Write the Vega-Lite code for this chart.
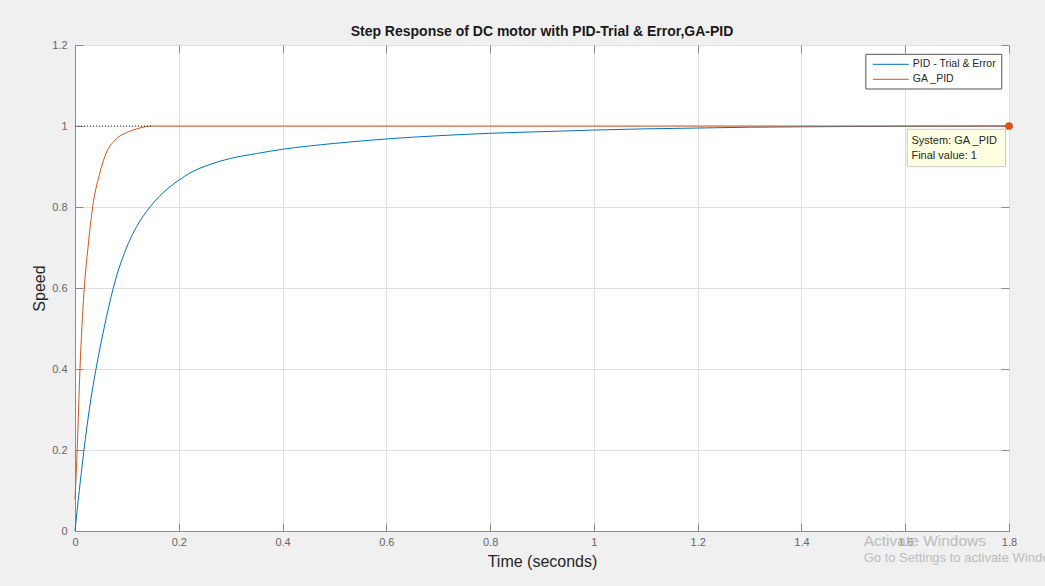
{
  "$schema": "https://vega.github.io/schema/vega-lite/v6.json",
  "width": 934,
  "height": 486,
  "autosize": "none",
  "padding": {"left": 75, "top": 45, "right": 36, "bottom": 55},
  "background": "#f0f0f0",
  "view": {"fill": "white", "stroke": "#8c8c8c", "strokeWidth": 1},
  "config": {
    "font": "Liberation Sans",
    "axis": {"labelFont": "Liberation Sans", "titleFont": "Liberation Sans"}
  },
  "title": {
    "text": "Step Response of DC motor with PID-Trial & Error,GA-PID",
    "fontSize": 14,
    "fontWeight": "bold",
    "color": "#1a1a1a",
    "anchor": "middle",
    "offset": 0
  },
  "datasets": {
    "response": [
      {"system": "PID - Trial & Error", "t": 0, "speed": 0},
      {"system": "PID - Trial & Error", "t": 0.0083, "speed": 0.1},
      {"system": "PID - Trial & Error", "t": 0.0173, "speed": 0.2},
      {"system": "PID - Trial & Error", "t": 0.0276, "speed": 0.3},
      {"system": "PID - Trial & Error", "t": 0.0405, "speed": 0.4},
      {"system": "PID - Trial & Error", "t": 0.0559, "speed": 0.5},
      {"system": "PID - Trial & Error", "t": 0.0738, "speed": 0.6},
      {"system": "PID - Trial & Error", "t": 0.1027, "speed": 0.71},
      {"system": "PID - Trial & Error", "t": 0.119, "speed": 0.752},
      {"system": "PID - Trial & Error", "t": 0.1445, "speed": 0.8},
      {"system": "PID - Trial & Error", "t": 0.183, "speed": 0.85},
      {"system": "PID - Trial & Error", "t": 0.201, "speed": 0.867},
      {"system": "PID - Trial & Error", "t": 0.2216, "speed": 0.884},
      {"system": "PID - Trial & Error", "t": 0.26, "speed": 0.905},
      {"system": "PID - Trial & Error", "t": 0.3, "speed": 0.92},
      {"system": "PID - Trial & Error", "t": 0.35, "speed": 0.932},
      {"system": "PID - Trial & Error", "t": 0.4, "speed": 0.9425},
      {"system": "PID - Trial & Error", "t": 0.5, "speed": 0.957},
      {"system": "PID - Trial & Error", "t": 0.6, "speed": 0.968},
      {"system": "PID - Trial & Error", "t": 0.7, "speed": 0.976},
      {"system": "PID - Trial & Error", "t": 0.8, "speed": 0.982},
      {"system": "PID - Trial & Error", "t": 0.9, "speed": 0.986},
      {"system": "PID - Trial & Error", "t": 1.0, "speed": 0.99},
      {"system": "PID - Trial & Error", "t": 1.1, "speed": 0.993},
      {"system": "PID - Trial & Error", "t": 1.2, "speed": 0.995},
      {"system": "PID - Trial & Error", "t": 1.3, "speed": 0.997},
      {"system": "PID - Trial & Error", "t": 1.4, "speed": 0.998},
      {"system": "PID - Trial & Error", "t": 1.5, "speed": 0.9988},
      {"system": "PID - Trial & Error", "t": 1.6, "speed": 0.9994},
      {"system": "PID - Trial & Error", "t": 1.8, "speed": 1.0},
      {"system": "GA _PID", "t": 0, "speed": 0.077},
      {"system": "GA _PID", "t": 0.0045, "speed": 0.21},
      {"system": "GA _PID", "t": 0.0096, "speed": 0.4},
      {"system": "GA _PID", "t": 0.0173, "speed": 0.59},
      {"system": "GA _PID", "t": 0.025, "speed": 0.7},
      {"system": "GA _PID", "t": 0.034, "speed": 0.8},
      {"system": "GA _PID", "t": 0.047, "speed": 0.88},
      {"system": "GA _PID", "t": 0.0597, "speed": 0.932},
      {"system": "GA _PID", "t": 0.077, "speed": 0.965},
      {"system": "GA _PID", "t": 0.0995, "speed": 0.984},
      {"system": "GA _PID", "t": 0.119, "speed": 0.993},
      {"system": "GA _PID", "t": 0.135, "speed": 0.998},
      {"system": "GA _PID", "t": 0.148, "speed": 1.0},
      {"system": "GA _PID", "t": 0.4, "speed": 1.0},
      {"system": "GA _PID", "t": 0.8, "speed": 1.0},
      {"system": "GA _PID", "t": 1.2, "speed": 1.0},
      {"system": "GA _PID", "t": 1.8, "speed": 1.0}
    ],
    "settle": [
      {"t": 0, "speed": 1},
      {"t": 0.148, "speed": 1}
    ],
    "legendbox": [
      {"x0": 1.5241, "x1": 1.7861, "y0": 1.0914, "y1": 1.177}
    ],
    "legendkeys": [
      {"system": "PID - Trial & Error", "x0": 1.5376, "x1": 1.6069, "lx": 1.6146, "y": 1.1523},
      {"system": "GA _PID", "x0": 1.5376, "x1": 1.6069, "lx": 1.6146, "y": 1.1153}
    ],
    "tipbox": [
      {"x0": 1.6037, "x1": 1.7933, "y0": 0.8995, "y1": 0.9919}
    ],
    "tiptext": [
      {"t": 1.612, "speed": 0.9637, "label": "System: GA _PID"},
      {"t": 1.612, "speed": 0.926, "label": "Final value: 1"}
    ],
    "marker": [
      {"t": 1.8, "speed": 1}
    ]
  },
  "layer": [
    {
      "data": {"name": "response"},
      "mark": {"type": "line", "strokeWidth": 1, "interpolate": "monotone"},
      "encoding": {
        "x": {
          "field": "t", "type": "quantitative",
          "scale": {"domain": [0, 1.8], "nice": false, "zero": false},
          "axis": {
            "orient": "bottom",
            "title": "Time (seconds)",
            "values": [0, 0.2, 0.4, 0.6, 0.8, 1, 1.2, 1.4, 1.6, 1.8],
            "format": "~g",
            "grid": true, "gridColor": "#dfdfdf", "gridWidth": 1,
            "domainColor": "#8c8c8c",
            "tickColor": "#8c8c8c", "tickSize": -8,
            "labelFlush": false, "labelOverlap": false,
            "labelFontSize": 11, "labelColor": "#666666", "labelPadding": 13,
            "titleFontSize": 16, "titleFontWeight": "normal", "titleColor": "#262626", "titlePadding": 6
          }
        },
        "y": {
          "field": "speed", "type": "quantitative",
          "scale": {"domain": [0, 1.2], "nice": false, "zero": false},
          "axis": {
            "orient": "left",
            "title": "Speed",
            "values": [0, 0.2, 0.4, 0.6, 0.8, 1, 1.2],
            "format": "~g",
            "grid": true, "gridColor": "#dfdfdf", "gridWidth": 1,
            "domainColor": "#8c8c8c",
            "tickColor": "#8c8c8c", "tickSize": -8,
            "labelFlush": false, "labelOverlap": false,
            "labelFontSize": 11, "labelColor": "#666666", "labelPadding": 16,
            "titleFontSize": 16, "titleFontWeight": "normal", "titleColor": "#262626", "titlePadding": 4
          }
        },
        "color": {
          "field": "system", "type": "nominal",
          "scale": {"domain": ["PID - Trial & Error", "GA _PID"], "range": ["#0072BD", "#D95319"]},
          "legend": null
        }
      }
    },
    {
      "data": {"name": "settle"},
      "mark": {"type": "line", "strokeWidth": 1, "strokeDash": [1, 2], "color": "#262626"},
      "encoding": {
        "x": {"field": "t", "type": "quantitative", "axis": null},
        "y": {"field": "speed", "type": "quantitative", "axis": null}
      }
    },
    {
      "data": {"name": "legendbox"},
      "mark": {"type": "rect", "fill": "white", "stroke": "#555555", "strokeWidth": 1},
      "encoding": {
        "x": {"field": "x0", "type": "quantitative", "axis": null},
        "x2": {"field": "x1"},
        "y": {"field": "y0", "type": "quantitative", "axis": null},
        "y2": {"field": "y1"}
      }
    },
    {
      "data": {"name": "legendkeys"},
      "mark": {"type": "rule", "strokeWidth": 1},
      "encoding": {
        "x": {"field": "x0", "type": "quantitative", "axis": null},
        "x2": {"field": "x1"},
        "y": {"field": "y", "type": "quantitative", "axis": null},
        "color": {"field": "system", "type": "nominal", "legend": null}
      }
    },
    {
      "data": {"name": "legendkeys"},
      "mark": {"type": "text", "align": "left", "baseline": "middle", "fontSize": 10.5, "color": "#262626", "font": "Liberation Sans"},
      "encoding": {
        "x": {"field": "lx", "type": "quantitative", "axis": null},
        "y": {"field": "y", "type": "quantitative", "axis": null},
        "text": {"field": "system"}
      }
    },
    {
      "data": {"name": "tipbox"},
      "mark": {"type": "rect", "fill": "#ffffe1", "stroke": "#c8c8c8", "strokeWidth": 1},
      "encoding": {
        "x": {"field": "x0", "type": "quantitative", "axis": null},
        "x2": {"field": "x1"},
        "y": {"field": "y0", "type": "quantitative", "axis": null},
        "y2": {"field": "y1"}
      }
    },
    {
      "data": {"name": "tiptext"},
      "mark": {"type": "text", "align": "left", "baseline": "middle", "fontSize": 11, "color": "#262626", "font": "Liberation Sans"},
      "encoding": {
        "x": {"field": "t", "type": "quantitative", "axis": null},
        "y": {"field": "speed", "type": "quantitative", "axis": null},
        "text": {"field": "label"}
      }
    },
    {
      "data": {"name": "marker"},
      "mark": {"type": "point", "filled": true, "size": 60, "color": "#D95319", "opacity": 1},
      "encoding": {
        "x": {
          "field": "t", "type": "quantitative",
          "axis": {"orient": "top", "title": null, "labels": false, "grid": false, "domain": false,
                   "values": [0, 0.2, 0.4, 0.6, 0.8, 1, 1.2, 1.4, 1.6, 1.8],
                   "tickColor": "#8c8c8c", "tickSize": -8}
        },
        "y": {
          "field": "speed", "type": "quantitative",
          "axis": {"orient": "right", "title": null, "labels": false, "grid": false, "domain": false,
                   "values": [0, 0.2, 0.4, 0.6, 0.8, 1, 1.2],
                   "tickColor": "#8c8c8c", "tickSize": -8}
        }
      }
    },
    {
      "data": {"values": [{"t": 1.52, "speed": -0.0247, "label": "Activate Windows"}]},
      "mark": {"type": "text", "align": "left", "baseline": "middle", "fontSize": 15.5, "color": "#bcbcbc", "font": "Liberation Sans"},
      "encoding": {
        "x": {"field": "t", "type": "quantitative", "axis": null},
        "y": {"field": "speed", "type": "quantitative", "axis": null},
        "text": {"field": "label"}
      }
    },
    {
      "data": {"values": [{"t": 1.52, "speed": -0.0667, "label": "Go to Settings to activate Windows."}]},
      "mark": {"type": "text", "align": "left", "baseline": "middle", "fontSize": 13, "color": "#bcbcbc", "font": "Liberation Sans"},
      "encoding": {
        "x": {"field": "t", "type": "quantitative", "axis": null},
        "y": {"field": "speed", "type": "quantitative", "axis": null},
        "text": {"field": "label"}
      }
    }
  ],
  "resolve": {"axis": {"x": "independent", "y": "independent"}}
}
